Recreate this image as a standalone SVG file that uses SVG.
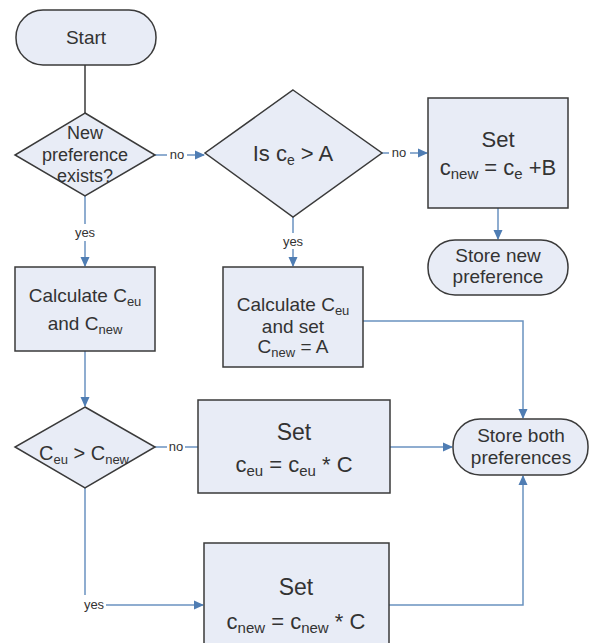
<svg xmlns="http://www.w3.org/2000/svg" width="590" height="643" viewBox="0 0 590 643">
<style>
.shape{fill:#e8ecf6;stroke:#3a3a3a;stroke-width:1.5}
.t{font-family:"Liberation Sans",Arial,sans-serif;fill:#333;text-anchor:middle}
.lbl{font-family:"Liberation Sans",Arial,sans-serif;fill:#333;font-size:13px;text-anchor:middle}
.c{fill:none;stroke:#6a92c0;stroke-width:1.5}
.a{marker-end:url(#arr)}
</style>
<defs>
<marker id="arr" markerWidth="10" markerHeight="10" refX="9" refY="5" orient="auto" markerUnits="userSpaceOnUse">
<path d="M0,0.5 L10,5 L0,9.5 z" fill="#4f7db3"/>
</marker>
</defs>
<rect width="590" height="643" fill="#fff"/>
<g id="connectors">
<line x1="85" y1="65" x2="85" y2="113" stroke="#3a3a3a" stroke-width="1.5"/>
<line class="c" x1="155" y1="155" x2="167" y2="155"/>
<text class="lbl" x="177" y="159">no</text>
<line class="c a" x1="187" y1="155" x2="204" y2="155"/>
<line class="c" x1="382" y1="153" x2="389" y2="153"/>
<text class="lbl" x="399" y="157">no</text>
<line class="c a" x1="410" y1="153" x2="427" y2="153"/>
<line class="c a" x1="498" y1="208" x2="498" y2="239"/>
<line class="c" x1="293" y1="217" x2="293" y2="233"/>
<text class="lbl" x="293" y="246">yes</text>
<line class="c a" x1="293" y1="249" x2="293" y2="266"/>
<line class="c" x1="85" y1="196" x2="85" y2="224"/>
<text class="lbl" x="85" y="237">yes</text>
<line class="c a" x1="85" y1="241" x2="85" y2="266"/>
<line class="c a" x1="85" y1="351" x2="85" y2="406"/>
<line class="c" x1="155" y1="447" x2="167" y2="447"/>
<text class="lbl" x="176" y="451">no</text>
<line class="c" x1="185" y1="447" x2="198" y2="447"/>
<polyline class="c a" points="363,321 523,321 523,418"/>
<line class="c a" x1="390" y1="447" x2="452" y2="447"/>
<line class="c" x1="85" y1="488" x2="85" y2="595"/>
<text class="lbl" x="94" y="609">yes</text>
<line class="c a" x1="106" y1="605" x2="203" y2="605"/>
<polyline class="c a" points="389,605 523,605 523,476"/>
</g>
<g id="start">
<rect class="shape" x="16" y="10" width="140" height="55" rx="27"/>
<text class="t" x="86" y="44" font-size="19">Start</text>
</g>
<g id="new-pref-exists">
<polygon class="shape" points="85,113 155,155 85,196 15,155"/>
<text class="t" font-size="18"><tspan x="85" y="139">New</tspan><tspan x="85" y="161">preference</tspan><tspan x="85" y="182">exists?</tspan></text>
</g>
<g id="is-ce-gt-a">
<polygon class="shape" points="293,90 382,153 293,217 205,153"/>
<text class="t" x="293" y="161" font-size="22">Is c<tspan font-size="14" dy="4">e</tspan><tspan dy="-4"> &gt; A</tspan></text>
</g>
<g id="set-cnew-b">
<rect class="shape" x="428" y="98" width="140" height="110"/>
<text class="t" x="498" y="147" font-size="22">Set</text>
<text class="t" x="498" y="175" font-size="22">c<tspan font-size="15" dy="4">new</tspan><tspan dy="-4"> = c</tspan><tspan font-size="15" dy="4">e</tspan><tspan dy="-4"> +B</tspan></text>
</g>
<g id="store-new">
<rect class="shape" x="428" y="240" width="140" height="55" rx="27"/>
<text class="t" font-size="19"><tspan x="498" y="262">Store new</tspan><tspan x="498" y="283">preference</tspan></text>
</g>
<g id="calc-left">
<rect class="shape" x="15" y="267" width="140" height="84"/>
<text class="t" x="85" y="302" font-size="19">Calculate C<tspan font-size="13" dy="4">eu</tspan></text>
<text class="t" x="85" y="330" font-size="19">and C<tspan font-size="13" dy="4">new</tspan></text>
</g>
<g id="calc-mid">
<rect class="shape" x="223" y="267" width="140" height="100"/>
<text class="t" x="293" y="311" font-size="19">Calculate C<tspan font-size="13" dy="4">eu</tspan></text>
<text class="t" x="293" y="333" font-size="19">and set</text>
<text class="t" x="293" y="353" font-size="19">C<tspan font-size="13" dy="4">new</tspan><tspan dy="-4"> = A</tspan></text>
</g>
<g id="ceu-gt-cnew">
<polygon class="shape" points="85,407 155,447 85,488 15,447"/>
<text class="t" x="84" y="460" font-size="20">C<tspan font-size="13" dy="4">eu</tspan><tspan dy="-4"> &gt; C</tspan><tspan font-size="13" dy="4">new</tspan></text>
</g>
<g id="set-ceu">
<rect class="shape" x="198" y="400" width="192" height="93"/>
<text class="t" x="294" y="440" font-size="23">Set</text>
<text class="t" x="294" y="472" font-size="22">c<tspan font-size="15" dy="4">eu</tspan><tspan dy="-4"> = c</tspan><tspan font-size="15" dy="4">eu</tspan><tspan dy="-4"> * C</tspan></text>
</g>
<g id="store-both">
<rect class="shape" x="453" y="419" width="135" height="56" rx="27"/>
<text class="t" font-size="19"><tspan x="521" y="442">Store both</tspan><tspan x="521" y="464">preferences</tspan></text>
</g>
<g id="set-cnew-c">
<rect class="shape" x="204" y="543" width="185" height="110"/>
<text class="t" x="296" y="595" font-size="23">Set</text>
<text class="t" x="296" y="629" font-size="22">c<tspan font-size="15" dy="4">new</tspan><tspan dy="-4"> = c</tspan><tspan font-size="15" dy="4">new</tspan><tspan dy="-4"> * C</tspan></text>
</g>
</svg>
